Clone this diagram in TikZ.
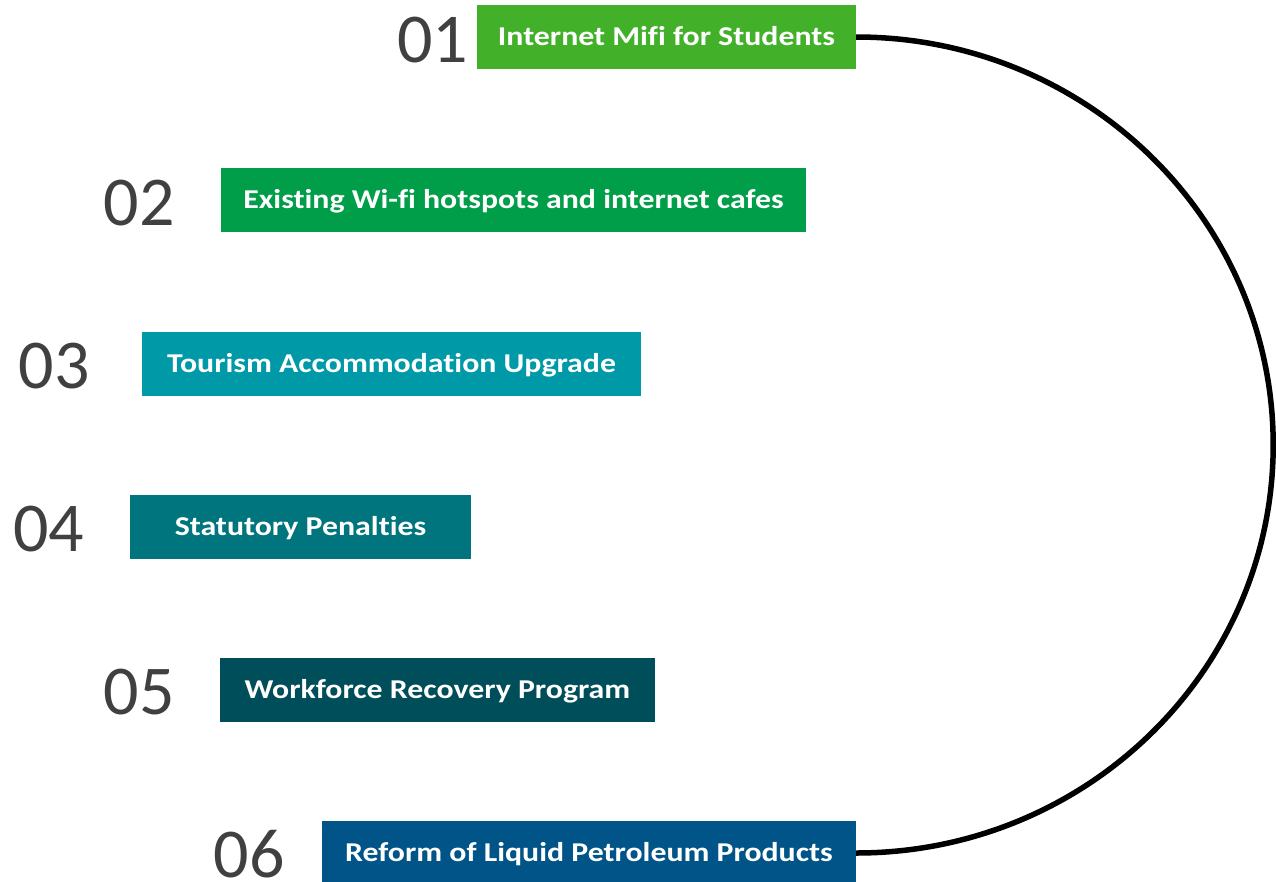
\documentclass[tikz,border=0pt]{standalone}
\usepackage{fontspec}
\setmainfont{Carlito}[Ligatures=NoCommon]
\definecolor{c1}{RGB}{67,176,42}
\definecolor{c2}{RGB}{0,158,72}
\definecolor{c3}{RGB}{0,153,168}
\definecolor{c4}{RGB}{0,117,125}
\definecolor{c5}{RGB}{0,78,89}
\definecolor{c6}{RGB}{0,84,135}
\definecolor{numgray}{RGB}{64,64,64}
\newcommand{\wide}[1]{\scalebox{1.17}[1]{#1}}
\tikzset{
  itembox/.style={rectangle, inner sep=0pt, minimum height=64pt, text=white,
    font=\fontsize{27.2}{30}\selectfont\bfseries, text height=17.5pt, text depth=0pt},
  numlabel/.style={inner sep=0pt, text=numgray, font=\fontsize{70}{84}\selectfont},
  ring/.style={line width=5.5pt, black}
}
\begin{document}
\begin{tikzpicture}[x=1pt,y=-1pt]
\useasboundingbox (0,0) rectangle (1276,881);
\begin{scope}
\clip (0,0) rectangle (1276,881);
\node[itembox, fill=c1, minimum width=379pt] (b1) at (666.5,37) {\wide{Internet Mifi for Students}};
\node[itembox, fill=c2, minimum width=585pt] (b2) at (513.5,200) {\wide{Existing Wi-fi hotspots and internet cafes}};
\node[itembox, fill=c3, minimum width=499pt] (b3) at (391.5,364) {\wide{Tourism Accommodation Upgrade}};
\node[itembox, fill=c4, minimum width=341pt] (b4) at (300.5,527) {\wide{Statutory Penalties}};
\node[itembox, fill=c5, minimum width=435pt] (b5) at (437.5,690) {\wide{Workforce Recovery Program}};
\node[itembox, fill=c6, minimum width=534pt] (b6) at (589,853) {\wide{Reform of Liquid Petroleum Products}};
\node[numlabel] (n1) at (432.5,40) {01};
\node[numlabel] (n2) at (139,203) {02};
\node[numlabel] (n3) at (54,366) {03};
\node[numlabel] (n4) at (48.5,529) {04};
\node[numlabel] (n5) at (139,692) {05};
\node[numlabel] (n6) at (249,854) {06};
\draw[ring] (b1.east) arc[start angle=-90, end angle=90, x radius=417, y radius=408];
\end{scope}
\end{tikzpicture}
\end{document}
